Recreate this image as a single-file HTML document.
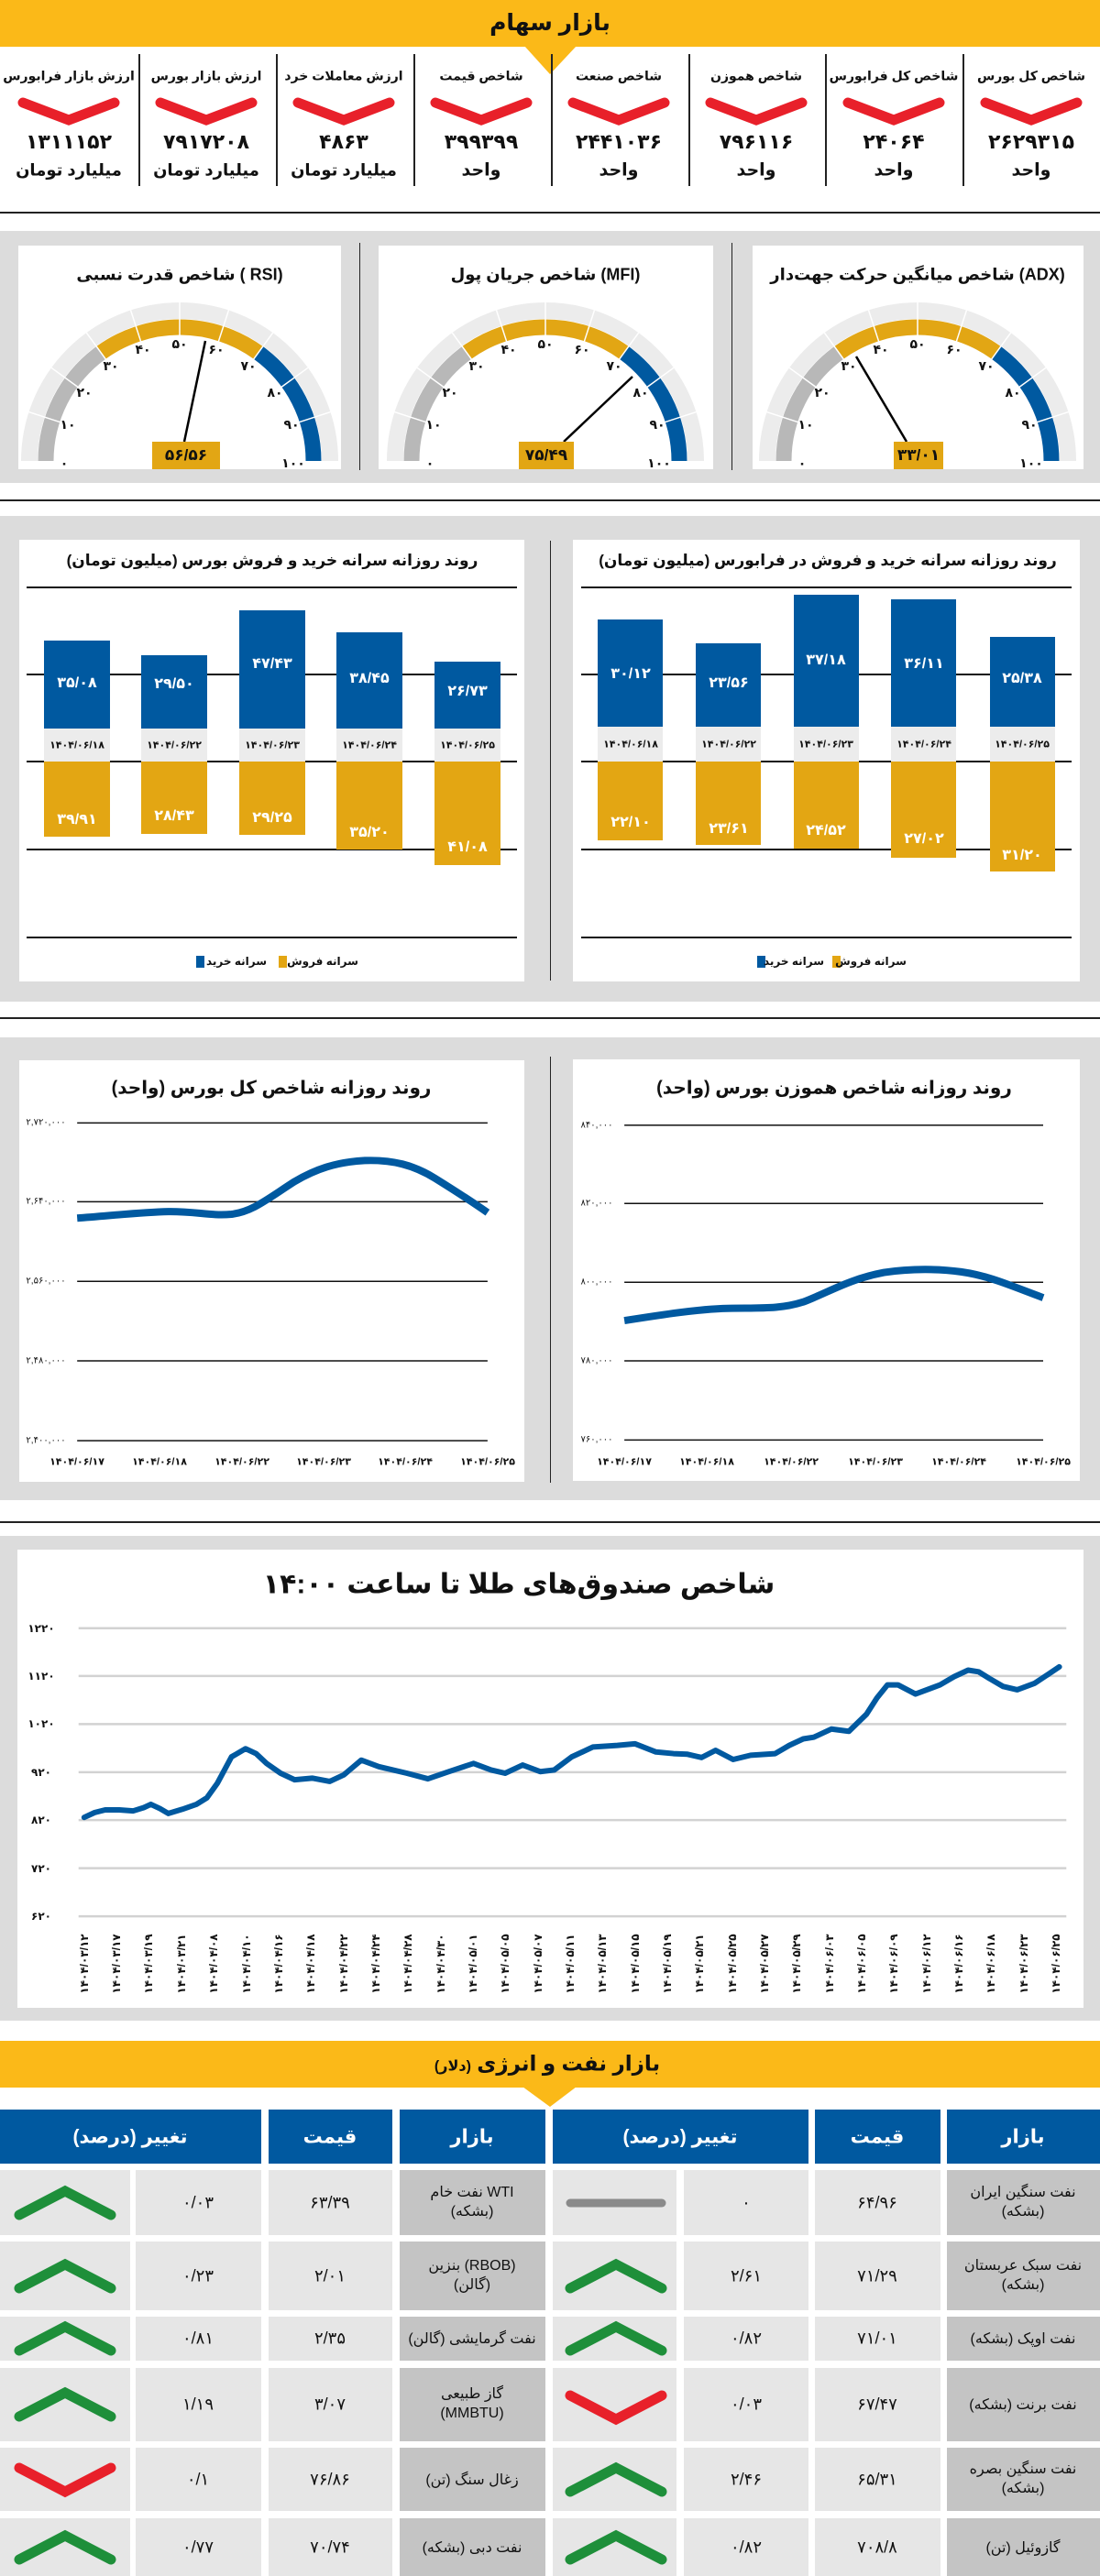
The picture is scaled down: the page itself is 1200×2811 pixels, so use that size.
<!DOCTYPE html>
<html><head><meta charset="utf-8">
<style>
*{margin:0;padding:0;box-sizing:border-box}
body{width:1200px;height:2811px;position:relative;background:#fff;font-family:"Liberation Sans","DejaVu Sans",sans-serif;color:#111;overflow:hidden}
.a{position:absolute}
.t{position:absolute;transform:translate(-50%,-50%);white-space:nowrap;font-weight:bold;text-align:center}
.n{direction:ltr}
.hl{position:absolute;left:0;width:1200px;height:2px;background:#222}
.gl{position:absolute;height:2px;background:#111}
.vd{position:absolute;width:2px;background:#222}
.bar{position:absolute}
.cell{position:absolute;background:#e6e6e6}
.mk{position:absolute;background:#c4c4c4}
</style></head><body>

<!-- ===== Section 1 header ===== -->
<div class="a" style="left:0;top:0;width:1200px;height:51px;background:#fbb918"></div>
<svg class="a" style="left:560px;top:50px" width="80" height="34"><polygon points="12,0 69,0 40,31" fill="#fbb918"/></svg>
<div class="t" style="left:600px;top:25px;font-size:25px">بازار سهام</div>

<div class="vd" style="left:151px;top:59px;height:144px"></div>
<div class="vd" style="left:301px;top:59px;height:144px"></div>
<div class="vd" style="left:451px;top:59px;height:144px"></div>
<div class="vd" style="left:601px;top:59px;height:144px"></div>
<div class="vd" style="left:751px;top:59px;height:144px"></div>
<div class="vd" style="left:900px;top:59px;height:144px"></div>
<div class="vd" style="left:1050px;top:59px;height:144px"></div>

<svg class="a" style="left:0;top:100px" width="1200" height="45">
<g fill="none" stroke="#e8202a" stroke-width="11" stroke-linecap="round" stroke-linejoin="miter">
<polyline points="25,12 75,31 125,12"/><polyline points="175,12 225,31 275,12"/><polyline points="325,12 375,31 425,12"/><polyline points="475,12 525,31 575,12"/>
<polyline points="625,12 675,31 725,12"/><polyline points="775,12 825,31 875,12"/><polyline points="925,12 975,31 1025,12"/><polyline points="1075,12 1125,31 1175,12"/>
</g></svg>

<div class="t" style="left:1125px;top:83px;font-size:14px">شاخص کل بورس</div>
<div class="t" style="left:975px;top:83px;font-size:14px">شاخص کل فرابورس</div>
<div class="t" style="left:825px;top:83px;font-size:14px">شاخص هموزن</div>
<div class="t" style="left:675px;top:83px;font-size:14px">شاخص صنعت</div>
<div class="t" style="left:525px;top:83px;font-size:14px">شاخص قیمت</div>
<div class="t" style="left:375px;top:83px;font-size:14px">ارزش معاملات خرد</div>
<div class="t" style="left:225px;top:83px;font-size:14px">ارزش بازار بورس</div>
<div class="t" style="left:75px;top:83px;font-size:14px">ارزش بازار فرابورس</div>

<div class="t n" style="left:1125px;top:155px;font-size:22px">۲۶۲۹۳۱۵</div>
<div class="t n" style="left:975px;top:155px;font-size:22px">۲۴۰۶۴</div>
<div class="t n" style="left:825px;top:155px;font-size:22px">۷۹۶۱۱۶</div>
<div class="t n" style="left:675px;top:155px;font-size:22px">۲۴۴۱۰۳۶</div>
<div class="t n" style="left:525px;top:155px;font-size:22px">۳۹۹۳۹۹</div>
<div class="t n" style="left:375px;top:155px;font-size:22px">۴۸۶۳</div>
<div class="t n" style="left:225px;top:155px;font-size:22px">۷۹۱۷۲۰۸</div>
<div class="t n" style="left:75px;top:155px;font-size:22px">۱۳۱۱۱۵۲</div>

<div class="t" style="left:1125px;top:186px;font-size:19px">واحد</div>
<div class="t" style="left:975px;top:186px;font-size:19px">واحد</div>
<div class="t" style="left:825px;top:186px;font-size:19px">واحد</div>
<div class="t" style="left:675px;top:186px;font-size:19px">واحد</div>
<div class="t" style="left:525px;top:186px;font-size:19px">واحد</div>
<div class="t" style="left:375px;top:186px;font-size:18px">میلیارد تومان</div>
<div class="t" style="left:225px;top:186px;font-size:18px">میلیارد تومان</div>
<div class="t" style="left:75px;top:186px;font-size:18px">میلیارد تومان</div>

<div class="hl" style="top:231px"></div>

<!-- ===== Gauges ===== -->
<div class="a" style="left:0;top:252px;width:1200px;height:275px;background:#dcdcdc"></div>
<div class="a" style="left:20px;top:268px;width:352px;height:244px;background:#fff"></div>
<div class="a" style="left:413px;top:268px;width:365px;height:244px;background:#fff"></div>
<div class="a" style="left:821px;top:268px;width:361px;height:244px;background:#fff"></div>
<div class="vd" style="left:392px;top:265px;height:248px;width:1px"></div>
<div class="vd" style="left:798px;top:265px;height:248px;width:1px"></div>

<div class="t" style="left:196px;top:300px;font-size:18px">شاخص قدرت نسبی ( RSI)</div>
<div class="t" style="left:595px;top:300px;font-size:18px">شاخص جریان پول (MFI)</div>
<div class="t" style="left:1001px;top:300px;font-size:18px">شاخص میانگین حرکت جهت‌دار (ADX)</div>

<!-- gauge 1 -->
<svg class="a" style="left:-4px;top:303px" width="400" height="210">
<g transform="translate(200,200)">
<path d="M -164 0 A 164 164 0 0 1 164 0" fill="none" stroke="#ececec" stroke-width="18"/>
<path d="M -146 0 A 146 146 0 0 1 -85.8 -118.1" fill="none" stroke="#b8b8b8" stroke-width="17"/>
<path d="M -85.8 -118.1 A 146 146 0 0 1 85.8 -118.1" fill="none" stroke="#e2a614" stroke-width="17"/>
<path d="M 85.8 -118.1 A 146 146 0 0 1 146 0" fill="none" stroke="#0059a0" stroke-width="17"/>
<g stroke="#fff" stroke-width="1.5"><line x1="-137" y1="0" x2="-173" y2="0" transform="rotate(18)"/><line x1="-137" y1="0" x2="-173" y2="0" transform="rotate(36)"/><line x1="-137" y1="0" x2="-173" y2="0" transform="rotate(54)"/><line x1="-137" y1="0" x2="-173" y2="0" transform="rotate(72)"/><line x1="-137" y1="0" x2="-173" y2="0" transform="rotate(90)"/><line x1="-137" y1="0" x2="-173" y2="0" transform="rotate(108)"/><line x1="-137" y1="0" x2="-173" y2="0" transform="rotate(126)"/><line x1="-137" y1="0" x2="-173" y2="0" transform="rotate(144)"/><line x1="-137" y1="0" x2="-173" y2="0" transform="rotate(162)"/></g>
<g font-size="14" font-weight="bold" text-anchor="middle" dominant-baseline="central" fill="#111" font-family="Liberation Sans, DejaVu Sans, sans-serif">
<text x="-126" y="2">۰</text><text x="-122" y="-40">۱۰</text><text x="-104" y="-75">۲۰</text><text x="-75" y="-104">۳۰</text><text x="-40" y="-122">۴۰</text><text x="0" y="-128">۵۰</text><text x="40" y="-122">۶۰</text><text x="75" y="-104">۷۰</text><text x="104" y="-75">۸۰</text><text x="122" y="-40">۹۰</text><text x="124" y="2">۱۰۰</text></g>
<line x1="5" y1="-21" x2="28" y2="-131" stroke="#000" stroke-width="2.5"/>
</g></svg>
<div class="a" style="left:166px;top:482px;width:74px;height:30px;background:#e2a614"></div>
<div class="t n" style="left:203px;top:497px;font-size:17px">۵۶/۵۶</div>

<!-- gauge 2 -->
<svg class="a" style="left:395px;top:303px" width="400" height="210">
<g transform="translate(200,200)">
<path d="M -164 0 A 164 164 0 0 1 164 0" fill="none" stroke="#ececec" stroke-width="18"/>
<path d="M -146 0 A 146 146 0 0 1 -85.8 -118.1" fill="none" stroke="#b8b8b8" stroke-width="17"/>
<path d="M -85.8 -118.1 A 146 146 0 0 1 85.8 -118.1" fill="none" stroke="#e2a614" stroke-width="17"/>
<path d="M 85.8 -118.1 A 146 146 0 0 1 146 0" fill="none" stroke="#0059a0" stroke-width="17"/>
<g stroke="#fff" stroke-width="1.5"><line x1="-137" y1="0" x2="-173" y2="0" transform="rotate(18)"/><line x1="-137" y1="0" x2="-173" y2="0" transform="rotate(36)"/><line x1="-137" y1="0" x2="-173" y2="0" transform="rotate(54)"/><line x1="-137" y1="0" x2="-173" y2="0" transform="rotate(72)"/><line x1="-137" y1="0" x2="-173" y2="0" transform="rotate(90)"/><line x1="-137" y1="0" x2="-173" y2="0" transform="rotate(108)"/><line x1="-137" y1="0" x2="-173" y2="0" transform="rotate(126)"/><line x1="-137" y1="0" x2="-173" y2="0" transform="rotate(144)"/><line x1="-137" y1="0" x2="-173" y2="0" transform="rotate(162)"/></g>
<g font-size="14" font-weight="bold" text-anchor="middle" dominant-baseline="central" fill="#111" font-family="Liberation Sans, DejaVu Sans, sans-serif">
<text x="-126" y="2">۰</text><text x="-122" y="-40">۱۰</text><text x="-104" y="-75">۲۰</text><text x="-75" y="-104">۳۰</text><text x="-40" y="-122">۴۰</text><text x="0" y="-128">۵۰</text><text x="40" y="-122">۶۰</text><text x="75" y="-104">۷۰</text><text x="104" y="-75">۸۰</text><text x="122" y="-40">۹۰</text><text x="124" y="2">۱۰۰</text></g>
<line x1="20" y1="-21" x2="95" y2="-92" stroke="#000" stroke-width="2.5"/>
</g></svg>
<div class="a" style="left:566px;top:482px;width:60px;height:30px;background:#e2a614"></div>
<div class="t n" style="left:596px;top:497px;font-size:17px">۷۵/۴۹</div>

<!-- gauge 3 -->
<svg class="a" style="left:801px;top:303px" width="400" height="210">
<g transform="translate(200,200)">
<path d="M -164 0 A 164 164 0 0 1 164 0" fill="none" stroke="#ececec" stroke-width="18"/>
<path d="M -146 0 A 146 146 0 0 1 -85.8 -118.1" fill="none" stroke="#b8b8b8" stroke-width="17"/>
<path d="M -85.8 -118.1 A 146 146 0 0 1 85.8 -118.1" fill="none" stroke="#e2a614" stroke-width="17"/>
<path d="M 85.8 -118.1 A 146 146 0 0 1 146 0" fill="none" stroke="#0059a0" stroke-width="17"/>
<g stroke="#fff" stroke-width="1.5"><line x1="-137" y1="0" x2="-173" y2="0" transform="rotate(18)"/><line x1="-137" y1="0" x2="-173" y2="0" transform="rotate(36)"/><line x1="-137" y1="0" x2="-173" y2="0" transform="rotate(54)"/><line x1="-137" y1="0" x2="-173" y2="0" transform="rotate(72)"/><line x1="-137" y1="0" x2="-173" y2="0" transform="rotate(90)"/><line x1="-137" y1="0" x2="-173" y2="0" transform="rotate(108)"/><line x1="-137" y1="0" x2="-173" y2="0" transform="rotate(126)"/><line x1="-137" y1="0" x2="-173" y2="0" transform="rotate(144)"/><line x1="-137" y1="0" x2="-173" y2="0" transform="rotate(162)"/></g>
<g font-size="14" font-weight="bold" text-anchor="middle" dominant-baseline="central" fill="#111" font-family="Liberation Sans, DejaVu Sans, sans-serif">
<text x="-126" y="2">۰</text><text x="-122" y="-40">۱۰</text><text x="-104" y="-75">۲۰</text><text x="-75" y="-104">۳۰</text><text x="-40" y="-122">۴۰</text><text x="0" y="-128">۵۰</text><text x="40" y="-122">۶۰</text><text x="75" y="-104">۷۰</text><text x="104" y="-75">۸۰</text><text x="122" y="-40">۹۰</text><text x="124" y="2">۱۰۰</text></g>
<line x1="-12" y1="-21" x2="-67" y2="-114" stroke="#000" stroke-width="2.5"/>
</g></svg>
<div class="a" style="left:975px;top:482px;width:54px;height:30px;background:#e2a614"></div>
<div class="t n" style="left:1002px;top:497px;font-size:17px">۳۳/۰۱</div>

<div class="hl" style="top:545px"></div>

<!-- ===== Bars ===== -->
<div class="a" style="left:0;top:563px;width:1200px;height:530px;background:#dcdcdc"></div>
<div class="a" style="left:21px;top:589px;width:551px;height:482px;background:#fff"></div>
<div class="a" style="left:625px;top:589px;width:553px;height:482px;background:#fff"></div>
<div class="vd" style="left:600px;top:590px;height:480px;width:1px"></div>

<div class="t" style="left:297px;top:612px;font-size:17px">روند روزانه سرانه خرید و فروش بورس (میلیون تومان)</div>
<div class="t" style="left:903px;top:612px;font-size:17px">روند روزانه سرانه خرید و فروش در فرابورس (میلیون تومان)</div>

<div class="gl" style="left:29px;width:535px;top:640px"></div>
<div class="gl" style="left:29px;width:535px;top:735px"></div>
<div class="gl" style="left:29px;width:535px;top:830px"></div>
<div class="gl" style="left:29px;width:535px;top:926px"></div>
<div class="gl" style="left:29px;width:535px;top:1022px"></div>
<div class="gl" style="left:634px;width:535px;top:640px"></div>
<div class="gl" style="left:634px;width:535px;top:735px"></div>
<div class="gl" style="left:634px;width:535px;top:830px"></div>
<div class="gl" style="left:634px;width:535px;top:926px"></div>
<div class="gl" style="left:634px;width:535px;top:1022px"></div>

<!-- left bars -->
<div class="bar" style="left:48px;top:699px;width:72px;height:96px;background:#0059a0"></div>
<div class="bar" style="left:154px;top:715px;width:72px;height:80px;background:#0059a0"></div>
<div class="bar" style="left:261px;top:666px;width:72px;height:129px;background:#0059a0"></div>
<div class="bar" style="left:367px;top:690px;width:72px;height:105px;background:#0059a0"></div>
<div class="bar" style="left:474px;top:722px;width:72px;height:73px;background:#0059a0"></div>
<div class="bar" style="left:48px;top:795px;width:72px;height:36px;background:#ececec"></div>
<div class="bar" style="left:154px;top:795px;width:72px;height:36px;background:#ececec"></div>
<div class="bar" style="left:261px;top:795px;width:72px;height:36px;background:#ececec"></div>
<div class="bar" style="left:367px;top:795px;width:72px;height:36px;background:#ececec"></div>
<div class="bar" style="left:474px;top:795px;width:72px;height:36px;background:#ececec"></div>
<div class="bar" style="left:48px;top:831px;width:72px;height:82px;background:#e3a613"></div>
<div class="bar" style="left:154px;top:831px;width:72px;height:79px;background:#e3a613"></div>
<div class="bar" style="left:261px;top:831px;width:72px;height:80px;background:#e3a613"></div>
<div class="bar" style="left:367px;top:831px;width:72px;height:96px;background:#e3a613"></div>
<div class="bar" style="left:474px;top:831px;width:72px;height:113px;background:#e3a613"></div>

<div class="t n" style="left:84px;top:745px;font-size:16px;color:#fff">۳۵/۰۸</div>
<div class="t n" style="left:190px;top:746px;font-size:16px;color:#fff">۲۹/۵۰</div>
<div class="t n" style="left:297px;top:724px;font-size:16px;color:#fff">۴۷/۴۳</div>
<div class="t n" style="left:403px;top:740px;font-size:16px;color:#fff">۳۸/۴۵</div>
<div class="t n" style="left:510px;top:754px;font-size:16px;color:#fff">۲۶/۷۳</div>
<div class="t n" style="left:84px;top:813px;font-size:11px">۱۴۰۴/۰۶/۱۸</div>
<div class="t n" style="left:190px;top:813px;font-size:11px">۱۴۰۴/۰۶/۲۲</div>
<div class="t n" style="left:297px;top:813px;font-size:11px">۱۴۰۴/۰۶/۲۳</div>
<div class="t n" style="left:403px;top:813px;font-size:11px">۱۴۰۴/۰۶/۲۴</div>
<div class="t n" style="left:510px;top:813px;font-size:11px">۱۴۰۴/۰۶/۲۵</div>
<div class="t n" style="left:84px;top:894px;font-size:16px;color:#fff">۳۹/۹۱</div>
<div class="t n" style="left:190px;top:890px;font-size:16px;color:#fff">۲۸/۴۳</div>
<div class="t n" style="left:297px;top:892px;font-size:16px;color:#fff">۲۹/۲۵</div>
<div class="t n" style="left:403px;top:908px;font-size:16px;color:#fff">۳۵/۲۰</div>
<div class="t n" style="left:510px;top:924px;font-size:16px;color:#fff">۴۱/۰۸</div>

<!-- right bars -->
<div class="bar" style="left:652px;top:676px;width:71px;height:117px;background:#0059a0"></div>
<div class="bar" style="left:759px;top:702px;width:71px;height:91px;background:#0059a0"></div>
<div class="bar" style="left:866px;top:649px;width:71px;height:144px;background:#0059a0"></div>
<div class="bar" style="left:972px;top:654px;width:71px;height:139px;background:#0059a0"></div>
<div class="bar" style="left:1080px;top:695px;width:71px;height:98px;background:#0059a0"></div>
<div class="bar" style="left:652px;top:793px;width:71px;height:38px;background:#ececec"></div>
<div class="bar" style="left:759px;top:793px;width:71px;height:38px;background:#ececec"></div>
<div class="bar" style="left:866px;top:793px;width:71px;height:38px;background:#ececec"></div>
<div class="bar" style="left:972px;top:793px;width:71px;height:38px;background:#ececec"></div>
<div class="bar" style="left:1080px;top:793px;width:71px;height:38px;background:#ececec"></div>
<div class="bar" style="left:652px;top:831px;width:71px;height:86px;background:#e3a613"></div>
<div class="bar" style="left:759px;top:831px;width:71px;height:91px;background:#e3a613"></div>
<div class="bar" style="left:866px;top:831px;width:71px;height:95px;background:#e3a613"></div>
<div class="bar" style="left:972px;top:831px;width:71px;height:105px;background:#e3a613"></div>
<div class="bar" style="left:1080px;top:831px;width:71px;height:120px;background:#e3a613"></div>

<div class="t n" style="left:688px;top:735px;font-size:16px;color:#fff">۳۰/۱۲</div>
<div class="t n" style="left:795px;top:745px;font-size:16px;color:#fff">۲۳/۵۶</div>
<div class="t n" style="left:901px;top:720px;font-size:16px;color:#fff">۳۷/۱۸</div>
<div class="t n" style="left:1008px;top:724px;font-size:16px;color:#fff">۳۶/۱۱</div>
<div class="t n" style="left:1115px;top:740px;font-size:16px;color:#fff">۲۵/۳۸</div>
<div class="t n" style="left:688px;top:812px;font-size:11px">۱۴۰۴/۰۶/۱۸</div>
<div class="t n" style="left:795px;top:812px;font-size:11px">۱۴۰۴/۰۶/۲۲</div>
<div class="t n" style="left:901px;top:812px;font-size:11px">۱۴۰۴/۰۶/۲۳</div>
<div class="t n" style="left:1008px;top:812px;font-size:11px">۱۴۰۴/۰۶/۲۴</div>
<div class="t n" style="left:1115px;top:812px;font-size:11px">۱۴۰۴/۰۶/۲۵</div>
<div class="t n" style="left:688px;top:897px;font-size:16px;color:#fff">۲۲/۱۰</div>
<div class="t n" style="left:795px;top:904px;font-size:16px;color:#fff">۲۳/۶۱</div>
<div class="t n" style="left:901px;top:906px;font-size:16px;color:#fff">۲۴/۵۲</div>
<div class="t n" style="left:1008px;top:915px;font-size:16px;color:#fff">۲۷/۰۲</div>
<div class="t n" style="left:1115px;top:933px;font-size:16px;color:#fff">۳۱/۲۰</div>

<!-- legends -->
<div class="a" style="left:214px;top:1043px;width:9px;height:13px;background:#0059a0"></div>
<div class="t" style="left:258px;top:1049px;font-size:12px">سرانه خرید</div>
<div class="a" style="left:304px;top:1043px;width:9px;height:13px;background:#e3a613"></div>
<div class="t" style="left:352px;top:1049px;font-size:12px">سرانه فروش</div>
<div class="a" style="left:826px;top:1043px;width:9px;height:13px;background:#0059a0"></div>
<div class="t" style="left:866px;top:1049px;font-size:12px">سرانه خرید</div>
<div class="a" style="left:908px;top:1043px;width:9px;height:13px;background:#e3a613"></div>
<div class="t" style="left:950px;top:1049px;font-size:12px">سرانه فروش</div>

<div class="hl" style="top:1110px"></div>

<!-- ===== Line charts ===== -->
<div class="a" style="left:0;top:1132px;width:1200px;height:505px;background:#dcdcdc"></div>
<div class="a" style="left:21px;top:1157px;width:551px;height:460px;background:#fff"></div>
<div class="a" style="left:625px;top:1156px;width:553px;height:460px;background:#fff"></div>
<div class="vd" style="left:600px;top:1153px;height:465px;width:1px"></div>

<div class="t" style="left:296px;top:1187px;font-size:20px">روند روزانه شاخص کل بورس (واحد)</div>
<div class="t" style="left:910px;top:1187px;font-size:20px">روند روزانه شاخص هموزن بورس (واحد)</div>

<svg class="a" style="left:0;top:1100px" width="1200" height="560" viewBox="0 0 1568 1568" preserveAspectRatio="none">
<g stroke="#111" stroke-width="1.5">
<line x1="110" y1="351" x2="695" y2="351" vector-effect="non-scaling-stroke"/>
<line x1="110" y1="592" x2="695" y2="592" vector-effect="non-scaling-stroke"/>
<line x1="110" y1="835" x2="695" y2="835" vector-effect="non-scaling-stroke"/>
<line x1="110" y1="1078" x2="695" y2="1078" vector-effect="non-scaling-stroke"/>
<line x1="110" y1="1322" x2="695" y2="1322" vector-effect="non-scaling-stroke"/>
<line x1="890" y1="358" x2="1487" y2="358" vector-effect="non-scaling-stroke"/>
<line x1="890" y1="597" x2="1487" y2="597" vector-effect="non-scaling-stroke"/>
<line x1="890" y1="838" x2="1487" y2="838" vector-effect="non-scaling-stroke"/>
<line x1="890" y1="1078" x2="1487" y2="1078" vector-effect="non-scaling-stroke"/>
<line x1="890" y1="1320" x2="1487" y2="1320" vector-effect="non-scaling-stroke"/>
</g>
<path d="M110,642 C160,634 200,624 240,622 C280,621 300,636 330,630 C360,622 380,585 420,530 C450,492 480,470 520,466 C560,463 590,480 620,520 C650,560 675,595 695,625" fill="none" stroke="#0059a0" stroke-width="8" vector-effect="non-scaling-stroke"/>
<path d="M890,955 C950,935 990,922 1030,918 C1080,915 1110,922 1145,898 C1180,870 1210,828 1260,808 C1300,795 1340,797 1370,806 C1410,818 1440,848 1487,885" fill="none" stroke="#0059a0" stroke-width="8" vector-effect="non-scaling-stroke"/>
</svg>

<div class="t n" style="left:50px;top:1225px;font-size:10px;font-weight:normal">۲,۷۲۰,۰۰۰</div>
<div class="t n" style="left:50px;top:1311px;font-size:10px;font-weight:normal">۲,۶۴۰,۰۰۰</div>
<div class="t n" style="left:50px;top:1398px;font-size:10px;font-weight:normal">۲,۵۶۰,۰۰۰</div>
<div class="t n" style="left:50px;top:1485px;font-size:10px;font-weight:normal">۲,۴۸۰,۰۰۰</div>
<div class="t n" style="left:50px;top:1572px;font-size:10px;font-weight:normal">۲,۴۰۰,۰۰۰</div>
<div class="t n" style="left:651px;top:1228px;font-size:10px;font-weight:normal">۸۴۰,۰۰۰</div>
<div class="t n" style="left:651px;top:1313px;font-size:10px;font-weight:normal">۸۲۰,۰۰۰</div>
<div class="t n" style="left:651px;top:1399px;font-size:10px;font-weight:normal">۸۰۰,۰۰۰</div>
<div class="t n" style="left:651px;top:1485px;font-size:10px;font-weight:normal">۷۸۰,۰۰۰</div>
<div class="t n" style="left:651px;top:1571px;font-size:10px;font-weight:normal">۷۶۰,۰۰۰</div>

<div class="t n" style="left:84px;top:1595px;font-size:11px">۱۴۰۴/۰۶/۱۷</div>
<div class="t n" style="left:174px;top:1595px;font-size:11px">۱۴۰۴/۰۶/۱۸</div>
<div class="t n" style="left:264px;top:1595px;font-size:11px">۱۴۰۴/۰۶/۲۲</div>
<div class="t n" style="left:353px;top:1595px;font-size:11px">۱۴۰۴/۰۶/۲۳</div>
<div class="t n" style="left:442px;top:1595px;font-size:11px">۱۴۰۴/۰۶/۲۴</div>
<div class="t n" style="left:532px;top:1595px;font-size:11px">۱۴۰۴/۰۶/۲۵</div>
<div class="t n" style="left:681px;top:1595px;font-size:11px">۱۴۰۴/۰۶/۱۷</div>
<div class="t n" style="left:771px;top:1595px;font-size:11px">۱۴۰۴/۰۶/۱۸</div>
<div class="t n" style="left:863px;top:1595px;font-size:11px">۱۴۰۴/۰۶/۲۲</div>
<div class="t n" style="left:955px;top:1595px;font-size:11px">۱۴۰۴/۰۶/۲۳</div>
<div class="t n" style="left:1046px;top:1595px;font-size:11px">۱۴۰۴/۰۶/۲۴</div>
<div class="t n" style="left:1138px;top:1595px;font-size:11px">۱۴۰۴/۰۶/۲۵</div>

<div class="hl" style="top:1660px"></div>

<!-- ===== Gold chart ===== -->
<div class="a" style="left:0;top:1676px;width:1200px;height:529px;background:#dcdcdc"></div>
<div class="a" style="left:19px;top:1691px;width:1163px;height:500px;background:#fff"></div>
<div class="t" style="left:566px;top:1729px;font-size:30px">شاخص صندوق‌های طلا تا ساعت ۱۴:۰۰</div>

<svg class="a" style="left:0;top:1660px" width="1200" height="560" viewBox="0 0 1568 1568" preserveAspectRatio="none">
<g stroke="#d2d2d2" stroke-width="2.5">
<line x1="112" y1="327" x2="1520" y2="327" vector-effect="non-scaling-stroke"/>
<line x1="112" y1="473" x2="1520" y2="473" vector-effect="non-scaling-stroke"/>
<line x1="112" y1="620" x2="1520" y2="620" vector-effect="non-scaling-stroke"/>
<line x1="112" y1="767" x2="1520" y2="767" vector-effect="non-scaling-stroke"/>
<line x1="112" y1="913" x2="1520" y2="913" vector-effect="non-scaling-stroke"/>
<line x1="112" y1="1060" x2="1520" y2="1060" vector-effect="non-scaling-stroke"/>
<line x1="112" y1="1207" x2="1520" y2="1207" vector-effect="non-scaling-stroke"/>
</g>
<polyline points="120,905 135,890 150,882 170,882 190,885 205,875 215,865 228,878 240,893 260,880 280,865 295,845 310,800 330,720 350,695 365,710 380,740 400,770 420,790 445,785 470,795 490,775 515,730 540,750 580,770 610,787 640,765 675,740 700,760 720,770 745,745 770,765 790,760 815,720 845,690 880,685 905,680 935,705 960,710 980,712 1000,722 1020,700 1045,728 1070,715 1105,710 1125,685 1145,665 1160,660 1185,635 1210,642 1235,590 1250,540 1265,500 1280,500 1305,528 1340,500 1360,475 1380,455 1395,460 1410,480 1430,505 1450,515 1475,495 1510,445" fill="none" stroke="#0059a0" stroke-width="6" stroke-linejoin="round" stroke-linecap="round" vector-effect="non-scaling-stroke"/>
</svg>

<div class="t n" style="left:45px;top:1777px;font-size:12px">۱۲۲۰</div>
<div class="t n" style="left:45px;top:1829px;font-size:12px">۱۱۲۰</div>
<div class="t n" style="left:45px;top:1881px;font-size:12px">۱۰۲۰</div>
<div class="t n" style="left:45px;top:1934px;font-size:12px">۹۲۰</div>
<div class="t n" style="left:45px;top:1986px;font-size:12px">۸۲۰</div>
<div class="t n" style="left:45px;top:2039px;font-size:12px">۷۲۰</div>
<div class="t n" style="left:45px;top:2091px;font-size:12px">۶۲۰</div>

<div style="position:absolute;left:0;top:0;width:0;height:0;font-size:12px;font-weight:bold">
<div class="a n" style="left:92px;top:2143px;transform:translate(-50%,-50%) rotate(-90deg);white-space:nowrap">۱۴۰۴/۰۳/۱۲</div>
<div class="a n" style="left:127px;top:2143px;transform:translate(-50%,-50%) rotate(-90deg);white-space:nowrap">۱۴۰۴/۰۳/۱۷</div>
<div class="a n" style="left:162px;top:2143px;transform:translate(-50%,-50%) rotate(-90deg);white-space:nowrap">۱۴۰۴/۰۳/۱۹</div>
<div class="a n" style="left:198px;top:2143px;transform:translate(-50%,-50%) rotate(-90deg);white-space:nowrap">۱۴۰۴/۰۳/۲۱</div>
<div class="a n" style="left:233px;top:2143px;transform:translate(-50%,-50%) rotate(-90deg);white-space:nowrap">۱۴۰۴/۰۴/۰۸</div>
<div class="a n" style="left:269px;top:2143px;transform:translate(-50%,-50%) rotate(-90deg);white-space:nowrap">۱۴۰۴/۰۴/۱۰</div>
<div class="a n" style="left:304px;top:2143px;transform:translate(-50%,-50%) rotate(-90deg);white-space:nowrap">۱۴۰۴/۰۴/۱۶</div>
<div class="a n" style="left:339px;top:2143px;transform:translate(-50%,-50%) rotate(-90deg);white-space:nowrap">۱۴۰۴/۰۴/۱۸</div>
<div class="a n" style="left:375px;top:2143px;transform:translate(-50%,-50%) rotate(-90deg);white-space:nowrap">۱۴۰۴/۰۴/۲۲</div>
<div class="a n" style="left:410px;top:2143px;transform:translate(-50%,-50%) rotate(-90deg);white-space:nowrap">۱۴۰۴/۰۴/۲۴</div>
<div class="a n" style="left:445px;top:2143px;transform:translate(-50%,-50%) rotate(-90deg);white-space:nowrap">۱۴۰۴/۰۴/۲۸</div>
<div class="a n" style="left:481px;top:2143px;transform:translate(-50%,-50%) rotate(-90deg);white-space:nowrap">۱۴۰۴/۰۴/۳۰</div>
<div class="a n" style="left:516px;top:2143px;transform:translate(-50%,-50%) rotate(-90deg);white-space:nowrap">۱۴۰۴/۰۵/۰۱</div>
<div class="a n" style="left:551px;top:2143px;transform:translate(-50%,-50%) rotate(-90deg);white-space:nowrap">۱۴۰۴/۰۵/۰۵</div>
<div class="a n" style="left:587px;top:2143px;transform:translate(-50%,-50%) rotate(-90deg);white-space:nowrap">۱۴۰۴/۰۵/۰۷</div>
<div class="a n" style="left:622px;top:2143px;transform:translate(-50%,-50%) rotate(-90deg);white-space:nowrap">۱۴۰۴/۰۵/۱۱</div>
<div class="a n" style="left:657px;top:2143px;transform:translate(-50%,-50%) rotate(-90deg);white-space:nowrap">۱۴۰۴/۰۵/۱۳</div>
<div class="a n" style="left:693px;top:2143px;transform:translate(-50%,-50%) rotate(-90deg);white-space:nowrap">۱۴۰۴/۰۵/۱۵</div>
<div class="a n" style="left:728px;top:2143px;transform:translate(-50%,-50%) rotate(-90deg);white-space:nowrap">۱۴۰۴/۰۵/۱۹</div>
<div class="a n" style="left:763px;top:2143px;transform:translate(-50%,-50%) rotate(-90deg);white-space:nowrap">۱۴۰۴/۰۵/۲۱</div>
<div class="a n" style="left:799px;top:2143px;transform:translate(-50%,-50%) rotate(-90deg);white-space:nowrap">۱۴۰۴/۰۵/۲۵</div>
<div class="a n" style="left:834px;top:2143px;transform:translate(-50%,-50%) rotate(-90deg);white-space:nowrap">۱۴۰۴/۰۵/۲۷</div>
<div class="a n" style="left:869px;top:2143px;transform:translate(-50%,-50%) rotate(-90deg);white-space:nowrap">۱۴۰۴/۰۵/۲۹</div>
<div class="a n" style="left:905px;top:2143px;transform:translate(-50%,-50%) rotate(-90deg);white-space:nowrap">۱۴۰۴/۰۶/۰۳</div>
<div class="a n" style="left:940px;top:2143px;transform:translate(-50%,-50%) rotate(-90deg);white-space:nowrap">۱۴۰۴/۰۶/۰۵</div>
<div class="a n" style="left:975px;top:2143px;transform:translate(-50%,-50%) rotate(-90deg);white-space:nowrap">۱۴۰۴/۰۶/۰۹</div>
<div class="a n" style="left:1011px;top:2143px;transform:translate(-50%,-50%) rotate(-90deg);white-space:nowrap">۱۴۰۴/۰۶/۱۲</div>
<div class="a n" style="left:1046px;top:2143px;transform:translate(-50%,-50%) rotate(-90deg);white-space:nowrap">۱۴۰۴/۰۶/۱۶</div>
<div class="a n" style="left:1081px;top:2143px;transform:translate(-50%,-50%) rotate(-90deg);white-space:nowrap">۱۴۰۴/۰۶/۱۸</div>
<div class="a n" style="left:1117px;top:2143px;transform:translate(-50%,-50%) rotate(-90deg);white-space:nowrap">۱۴۰۴/۰۶/۲۳</div>
<div class="a n" style="left:1152px;top:2143px;transform:translate(-50%,-50%) rotate(-90deg);white-space:nowrap">۱۴۰۴/۰۶/۲۵</div>
</div>

<!-- ===== Oil table ===== -->
<div class="a" style="left:0;top:2227px;width:1200px;height:51px;background:#fbb918"></div>
<svg class="a" style="left:560px;top:2277px" width="80" height="24"><polygon points="10,0 69,0 40,22" fill="#fbb918"/></svg>
<div class="t" style="left:597px;top:2252px;font-size:23px">بازار نفت و انرژی <span style="font-size:16px">(دلار)</span></div>

<div class="a" style="left:1033px;top:2302px;width:167px;height:59px;background:#0059a0"></div>
<div class="a" style="left:889px;top:2302px;width:137px;height:59px;background:#0059a0"></div>
<div class="a" style="left:603px;top:2302px;width:279px;height:59px;background:#0059a0"></div>
<div class="a" style="left:436px;top:2302px;width:159px;height:59px;background:#0059a0"></div>
<div class="a" style="left:293px;top:2302px;width:135px;height:59px;background:#0059a0"></div>
<div class="a" style="left:0;top:2302px;width:285px;height:59px;background:#0059a0"></div>
<div class="t" style="left:1116px;top:2332px;font-size:21px;color:#fff">بازار</div>
<div class="t" style="left:957px;top:2332px;font-size:21px;color:#fff">قیمت</div>
<div class="t" style="left:742px;top:2332px;font-size:21px;color:#fff">تغییر (درصد)</div>
<div class="t" style="left:515px;top:2332px;font-size:21px;color:#fff">بازار</div>
<div class="t" style="left:360px;top:2332px;font-size:21px;color:#fff">قیمت</div>
<div class="t" style="left:142px;top:2332px;font-size:21px;color:#fff">تغییر (درصد)</div>

<div class="mk" style="left:1033px;top:2368px;width:167px;height:71px"></div>
<div class="mk" style="left:1033px;top:2446px;width:167px;height:75px"></div>
<div class="mk" style="left:1033px;top:2528px;width:167px;height:48px"></div>
<div class="mk" style="left:1033px;top:2584px;width:167px;height:80px"></div>
<div class="mk" style="left:1033px;top:2671px;width:167px;height:69px"></div>
<div class="mk" style="left:1033px;top:2748px;width:167px;height:63px"></div>
<div class="mk" style="left:436px;top:2368px;width:159px;height:71px"></div>
<div class="mk" style="left:436px;top:2446px;width:159px;height:75px"></div>
<div class="mk" style="left:436px;top:2528px;width:159px;height:48px"></div>
<div class="mk" style="left:436px;top:2584px;width:159px;height:80px"></div>
<div class="mk" style="left:436px;top:2671px;width:159px;height:69px"></div>
<div class="mk" style="left:436px;top:2748px;width:159px;height:63px"></div>

<div class="cell" style="left:889px;top:2368px;width:137px;height:71px"></div>
<div class="cell" style="left:746px;top:2368px;width:136px;height:71px"></div>
<div class="cell" style="left:603px;top:2368px;width:135px;height:71px"></div>
<div class="cell" style="left:293px;top:2368px;width:135px;height:71px"></div>
<div class="cell" style="left:148px;top:2368px;width:137px;height:71px"></div>
<div class="cell" style="left:0px;top:2368px;width:142px;height:71px"></div>

<div class="cell" style="left:889px;top:2446px;width:137px;height:75px"></div>
<div class="cell" style="left:746px;top:2446px;width:136px;height:75px"></div>
<div class="cell" style="left:603px;top:2446px;width:135px;height:75px"></div>
<div class="cell" style="left:293px;top:2446px;width:135px;height:75px"></div>
<div class="cell" style="left:148px;top:2446px;width:137px;height:75px"></div>
<div class="cell" style="left:0px;top:2446px;width:142px;height:75px"></div>

<div class="cell" style="left:889px;top:2528px;width:137px;height:48px"></div>
<div class="cell" style="left:746px;top:2528px;width:136px;height:48px"></div>
<div class="cell" style="left:603px;top:2528px;width:135px;height:48px"></div>
<div class="cell" style="left:293px;top:2528px;width:135px;height:48px"></div>
<div class="cell" style="left:148px;top:2528px;width:137px;height:48px"></div>
<div class="cell" style="left:0px;top:2528px;width:142px;height:48px"></div>

<div class="cell" style="left:889px;top:2584px;width:137px;height:80px"></div>
<div class="cell" style="left:746px;top:2584px;width:136px;height:80px"></div>
<div class="cell" style="left:603px;top:2584px;width:135px;height:80px"></div>
<div class="cell" style="left:293px;top:2584px;width:135px;height:80px"></div>
<div class="cell" style="left:148px;top:2584px;width:137px;height:80px"></div>
<div class="cell" style="left:0px;top:2584px;width:142px;height:80px"></div>

<div class="cell" style="left:889px;top:2671px;width:137px;height:69px"></div>
<div class="cell" style="left:746px;top:2671px;width:136px;height:69px"></div>
<div class="cell" style="left:603px;top:2671px;width:135px;height:69px"></div>
<div class="cell" style="left:293px;top:2671px;width:135px;height:69px"></div>
<div class="cell" style="left:148px;top:2671px;width:137px;height:69px"></div>
<div class="cell" style="left:0px;top:2671px;width:142px;height:69px"></div>

<div class="cell" style="left:889px;top:2748px;width:137px;height:63px"></div>
<div class="cell" style="left:746px;top:2748px;width:136px;height:63px"></div>
<div class="cell" style="left:603px;top:2748px;width:135px;height:63px"></div>
<div class="cell" style="left:293px;top:2748px;width:135px;height:63px"></div>
<div class="cell" style="left:148px;top:2748px;width:137px;height:63px"></div>
<div class="cell" style="left:0px;top:2748px;width:142px;height:63px"></div>

<div class="t" style="left:1116px;top:2404px;font-size:16px;font-weight:normal;line-height:1.3">نفت سنگین ایران<br>(بشکه)</div>
<div class="t" style="left:1116px;top:2484px;font-size:16px;font-weight:normal;line-height:1.3">نفت سبک عربستان<br>(بشکه)</div>
<div class="t" style="left:1116px;top:2552px;font-size:16px;font-weight:normal">نفت اوپک (بشکه)</div>
<div class="t" style="left:1116px;top:2624px;font-size:16px;font-weight:normal">نفت برنت (بشکه)</div>
<div class="t" style="left:1116px;top:2706px;font-size:16px;font-weight:normal;line-height:1.3">نفت سنگین بصره<br>(بشکه)</div>
<div class="t" style="left:1116px;top:2780px;font-size:16px;font-weight:normal">گازوئیل (تن)</div>

<div class="t n" style="left:957px;top:2404px;font-size:18px;font-weight:normal">۶۴/۹۶</div>
<div class="t n" style="left:957px;top:2484px;font-size:18px;font-weight:normal">۷۱/۲۹</div>
<div class="t n" style="left:957px;top:2552px;font-size:18px;font-weight:normal">۷۱/۰۱</div>
<div class="t n" style="left:957px;top:2624px;font-size:18px;font-weight:normal">۶۷/۴۷</div>
<div class="t n" style="left:957px;top:2706px;font-size:18px;font-weight:normal">۶۵/۳۱</div>
<div class="t n" style="left:957px;top:2780px;font-size:18px;font-weight:normal">۷۰۸/۸</div>

<div class="t n" style="left:814px;top:2404px;font-size:18px;font-weight:normal">۰</div>
<div class="t n" style="left:814px;top:2484px;font-size:18px;font-weight:normal">۲/۶۱</div>
<div class="t n" style="left:814px;top:2552px;font-size:18px;font-weight:normal">۰/۸۲</div>
<div class="t n" style="left:814px;top:2624px;font-size:18px;font-weight:normal">۰/۰۳</div>
<div class="t n" style="left:814px;top:2706px;font-size:18px;font-weight:normal">۲/۴۶</div>
<div class="t n" style="left:814px;top:2780px;font-size:18px;font-weight:normal">۰/۸۲</div>

<div class="t" style="left:515px;top:2404px;font-size:16px;font-weight:normal;line-height:1.3">نفت خام WTI<br>(بشکه)</div>
<div class="t" style="left:515px;top:2484px;font-size:16px;font-weight:normal;line-height:1.3">بنزین (RBOB)<br>(گالن)</div>
<div class="t" style="left:515px;top:2552px;font-size:16px;font-weight:normal">نفت گرمایشی (گالن)</div>
<div class="t" style="left:515px;top:2624px;font-size:16px;font-weight:normal;line-height:1.3">گاز طبیعی<br>(MMBTU)</div>
<div class="t" style="left:515px;top:2706px;font-size:16px;font-weight:normal">زغال سنگ (تن)</div>
<div class="t" style="left:515px;top:2780px;font-size:16px;font-weight:normal">نفت دبی (بشکه)</div>

<div class="t n" style="left:360px;top:2404px;font-size:18px;font-weight:normal">۶۳/۳۹</div>
<div class="t n" style="left:360px;top:2484px;font-size:18px;font-weight:normal">۲/۰۱</div>
<div class="t n" style="left:360px;top:2552px;font-size:18px;font-weight:normal">۲/۳۵</div>
<div class="t n" style="left:360px;top:2624px;font-size:18px;font-weight:normal">۳/۰۷</div>
<div class="t n" style="left:360px;top:2706px;font-size:18px;font-weight:normal">۷۶/۸۶</div>
<div class="t n" style="left:360px;top:2780px;font-size:18px;font-weight:normal">۷۰/۷۴</div>

<div class="t n" style="left:216px;top:2404px;font-size:18px;font-weight:normal">۰/۰۳</div>
<div class="t n" style="left:216px;top:2484px;font-size:18px;font-weight:normal">۰/۲۳</div>
<div class="t n" style="left:216px;top:2552px;font-size:18px;font-weight:normal">۰/۸۱</div>
<div class="t n" style="left:216px;top:2624px;font-size:18px;font-weight:normal">۱/۱۹</div>
<div class="t n" style="left:216px;top:2706px;font-size:18px;font-weight:normal">۰/۱</div>
<div class="t n" style="left:216px;top:2780px;font-size:18px;font-weight:normal">۰/۷۷</div>

<svg class="a" style="left:0;top:2300px" width="1200" height="511">
<g fill="none" stroke-width="11" stroke-linecap="round" stroke-linejoin="miter">
<line x1="622" y1="104" x2="722" y2="104" stroke="#8a8a8a" stroke-width="9"/>
<polyline points="622,197 672,171 722,197" stroke="#1e8f3a"/>
<polyline points="622,265 672,239 722,265" stroke="#1e8f3a"/>
<polyline points="622,314 672,340 722,314" stroke="#e8202a"/>
<polyline points="622,419 672,393 722,419" stroke="#1e8f3a"/>
<polyline points="622,493 672,467 722,493" stroke="#1e8f3a"/>
<polyline points="21,117 71,91 121,117" stroke="#1e8f3a"/>
<polyline points="21,197 71,171 121,197" stroke="#1e8f3a"/>
<polyline points="21,265 71,239 121,265" stroke="#1e8f3a"/>
<polyline points="21,337 71,311 121,337" stroke="#1e8f3a"/>
<polyline points="21,393 71,419 121,393" stroke="#e8202a"/>
<polyline points="21,493 71,467 121,493" stroke="#1e8f3a"/>
</g></svg>

</body></html>
